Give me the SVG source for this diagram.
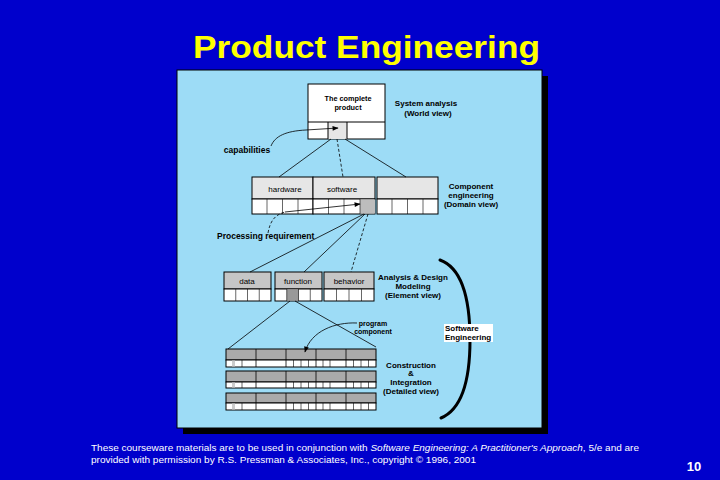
<svg xmlns="http://www.w3.org/2000/svg" width="720" height="480" viewBox="0 0 720 480">
<defs>
<style>
text{font-family:"Liberation Sans",Arial,sans-serif;fill:#000}
.b{font-weight:bold}
.lb{font-size:8px;font-weight:bold;text-anchor:middle}
.rg{font-size:8px;text-anchor:middle}
.box{stroke:#000;stroke-width:1}
.ln{stroke:#000;stroke-width:0.8;fill:none}
.dl{stroke:#000;stroke-width:0.8;fill:none;stroke-dasharray:3 2}
.cl{stroke:#000;stroke-width:0.6}
.ft{font-size:9.5px;fill:#fff}
</style>
<marker id="ah" viewBox="0 0 10 10" refX="9" refY="5" markerWidth="7" markerHeight="6" orient="auto" markerUnits="userSpaceOnUse">
<path d="M0,1 L10,5 L0,9 z" fill="#000"/>
</marker>
</defs>
<rect x="0" y="0" width="720" height="480" fill="#0000cc"/>
<text x="193" y="58" font-size="32" class="b" style="fill:#ffff00" textLength="347" lengthAdjust="spacingAndGlyphs">Product Engineering</text>
<rect x="183" y="76" width="365" height="358" fill="#000"/>
<rect x="177" y="70" width="365" height="358" fill="#9ddcf6" stroke="#000" stroke-width="1"/>

<g id="complete-product">
<rect class="box" x="308" y="84" width="77" height="55" fill="#fff"/>
<rect x="328" y="122" width="19" height="17" fill="#e6e6e6"/>
<line class="box" x1="308" y1="122" x2="385" y2="122"/>
<line class="box" x1="328" y1="122" x2="328" y2="139"/>
<line class="box" x1="347" y1="122" x2="347" y2="139"/>
<text class="lb" x="348" y="101" style="font-size:7.3px">The complete</text>
<text class="lb" x="348" y="110" style="font-size:7.3px">product</text>
</g>
<g id="system-analysis-label">
<text class="lb" x="426" y="106">System analysis</text>
<text class="lb" x="428" y="116">(World view)</text>
</g>
<g id="capabilities-label">
<text class="lb" x="247" y="153" style="font-size:8.5px">capabilities</text>
</g>

<g id="component-row">
<rect class="box" x="252" y="177" width="61" height="22" fill="#e6e6e6"/>
<rect class="box" x="313" y="177" width="62" height="22" fill="#e6e6e6"/>
<rect class="box" x="377" y="177" width="61" height="22" fill="#e6e6e6"/>
<rect class="box" x="252" y="199" width="61" height="15" fill="#fff"/>
<rect class="box" x="313" y="199" width="62" height="15" fill="#fff"/>
<rect class="box" x="377" y="199" width="61" height="15" fill="#fff"/>
<rect x="360" y="199.5" width="15" height="14" fill="#bdbdbd"/>
<g class="cl">
<line x1="267" y1="199" x2="267" y2="214"/><line x1="282.5" y1="199" x2="282.5" y2="214"/><line x1="298" y1="199" x2="298" y2="214"/>
<line x1="328.5" y1="199" x2="328.5" y2="214"/><line x1="344" y1="199" x2="344" y2="214"/><line x1="360" y1="199" x2="360" y2="214"/>
<line x1="392" y1="199" x2="392" y2="214"/><line x1="407.5" y1="199" x2="407.5" y2="214"/><line x1="423" y1="199" x2="423" y2="214"/>
</g>
<text class="rg" x="285" y="192">hardware</text>
<text class="rg" x="342" y="192">software</text>
</g>
<g id="component-label">
<text class="lb" x="471" y="189">Component</text>
<text class="lb" x="471" y="198">engineering</text>
<text class="lb" x="471" y="207">(Domain view)</text>
</g>
<g id="processing-label">
<text x="217" y="239" class="b" style="font-size:8.5px">Processing requirement</text>
</g>

<g id="element-row">
<rect class="box" x="224" y="272" width="47" height="17" fill="#c6c6c6"/>
<rect class="box" x="275" y="272" width="47" height="17" fill="#c6c6c6"/>
<rect class="box" x="324" y="272" width="50" height="17" fill="#c6c6c6"/>
<rect class="box" x="224" y="289" width="47" height="12" fill="#fff"/>
<rect class="box" x="275" y="289" width="47" height="12" fill="#fff"/>
<rect class="box" x="324" y="289" width="50" height="12" fill="#fff"/>
<rect x="286.75" y="289.5" width="11.75" height="11" fill="#999"/>
<g class="cl">
<line x1="235.75" y1="289" x2="235.75" y2="301"/><line x1="247.5" y1="289" x2="247.5" y2="301"/><line x1="259.25" y1="289" x2="259.25" y2="301"/>
<line x1="286.75" y1="289" x2="286.75" y2="301"/><line x1="298.5" y1="289" x2="298.5" y2="301"/><line x1="310.25" y1="289" x2="310.25" y2="301"/>
<line x1="336.5" y1="289" x2="336.5" y2="301"/><line x1="349" y1="289" x2="349" y2="301"/><line x1="361.5" y1="289" x2="361.5" y2="301"/>
</g>
<text class="rg" x="247" y="284">data</text>
<text class="rg" x="298" y="284">function</text>
<text class="rg" x="349" y="284">behavior</text>
</g>
<g id="analysis-label">
<text class="lb" x="413" y="280">Analysis &amp; Design</text>
<text class="lb" x="413" y="289">Modeling</text>
<text class="lb" x="413" y="298">(Element view)</text>
</g>
<g id="program-component-label">
<text class="lb" x="373" y="326" style="font-size:7px">program</text>
<text class="lb" x="373" y="334" style="font-size:7px">component</text>
</g>

<g id="construction-rows">
<g id="row1">
<rect class="box" x="226" y="349" width="150" height="11" fill="#aaa"/>
<rect class="box" x="226" y="360" width="150" height="7" fill="#fff"/>
</g>
<g id="row2">
<rect class="box" x="226" y="371" width="150" height="11" fill="#aaa"/>
<rect class="box" x="226" y="382" width="150" height="6" fill="#fff"/>
</g>
<g id="row3">
<rect class="box" x="226" y="393" width="150" height="10" fill="#aaa"/>
<rect class="box" x="226" y="403" width="150" height="7" fill="#fff"/>
</g>
<g class="cl">
<path d="M256,349V367M286,349V367M316,349V367M346,349V367M256,371V388M286,371V388M316,371V388M346,371V388M256,393V410M286,393V410M316,393V410M346,393V410" stroke="#000" stroke-width="0.8"/>
<path d="M242,360V367M293.5,360V367M301,360V367M308.5,360V367M323,360V367M330,360V367M353.5,360V367M361,360V367M368.5,360V367
M242,382V388M293.5,382V388M301,382V388M308.5,382V388M323,382V388M330,382V388M353.5,382V388M361,382V388M368.5,382V388
M242,403V410M293.5,403V410M301,403V410M308.5,403V410M323,403V410M330,403V410M353.5,403V410M361,403V410M368.5,403V410" stroke="#000"/>
<path d="M233.5,360.5V366.5M233.5,382.5V387.5M233.5,403.5V409.5" stroke="#ccc" stroke-width="3"/>
</g>
</g>
<g id="construction-label">
<text class="lb" x="411" y="368">Construction</text>
<text class="lb" x="411" y="376">&amp;</text>
<text class="lb" x="411" y="385">Integration</text>
<text class="lb" x="411" y="394">(Detailed view)</text>
</g>

<g id="connectors">
<path class="ln" d="M271,146 C275,136 286,131 306,130 L338,128" marker-end="url(#ah)"/>
<path class="ln" d="M331,139 L279,177"/>
<path class="dl" d="M337,139 L343,177"/>
<path class="ln" d="M345,139 L406,177"/>
<path class="dl" d="M268,233 C270,222 274,215 285,212"/>
<path class="ln" d="M285,212 L360,204" marker-end="url(#ah)"/>
<path class="ln" d="M364,214 L250,272"/>
<path class="ln" d="M365,214 L304,272"/>
<path class="dl" d="M368,214 L351,272"/>
<path class="ln" d="M290,301 L228,349"/>
<path class="ln" d="M295,301 L376,347"/>
<path class="ln" d="M357,323 C335,322 311,331 305,352" marker-end="url(#ah)"/>
<path d="M440,260 C462,268 470,300 470,340 C470,385 460,410 441,418" fill="none" stroke="#000" stroke-width="3" stroke-linecap="round"/>
</g>

<g id="software-engineering-label">
<rect x="444" y="324" width="49" height="18" fill="#fff"/>
<text x="445" y="331" class="b" style="font-size:8px">Software</text>
<text x="445" y="340" class="b" style="font-size:8px">Engineering</text>
</g>

<text class="ft" x="91" y="451" textLength="548" lengthAdjust="spacingAndGlyphs">These courseware materials are to be used in conjunction with <tspan font-style="italic">Software Engineering: A Practitioner's Approach</tspan>, 5/e and are</text>
<text class="ft" x="91" y="463" textLength="385" lengthAdjust="spacingAndGlyphs">provided with permission by R.S. Pressman &amp; Associates, Inc., copyright © 1996, 2001</text>
<text x="694" y="471" class="b" style="fill:#fff;font-size:13px;text-anchor:middle">10</text>
</svg>
